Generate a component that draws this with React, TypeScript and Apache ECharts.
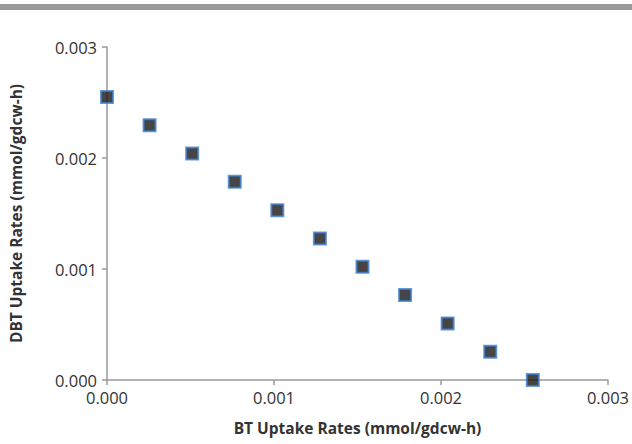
import React, { useEffect, useRef } from "react";
import * as echarts from "echarts";

const btRates = [0, 0.000255, 0.00051, 0.000765, 0.00102, 0.001275, 0.00153, 0.001785, 0.00204, 0.002295, 0.00255];
const dbtRates = [0.00255, 0.002295, 0.00204, 0.001785, 0.00153, 0.001275, 0.00102, 0.000765, 0.00051, 0.000255, 0];
const xName = "BT Uptake Rates (mmol/gdcw-h)";
const yName = "DBT Uptake Rates (mmol/gdcw-h)";

export default function App() {
  const ref = useRef<HTMLDivElement>(null);
  useEffect(() => {
    const chart = echarts.init(ref.current!, null, { renderer: "svg" });
    const axisCommon = {
      min: 0,
      max: 0.003,
      interval: 0.001,
      splitLine: { show: false },
      axisLine: { show: true, lineStyle: { color: "#999", width: 1.5 } },
      axisTick: { show: true, inside: false, length: 5, lineStyle: { color: "#999", width: 1.5 } },
      axisLabel: {
        color: "#333",
        fontFamily: "Open Sans",
        fontSize: 16.5,
        formatter: (v: number) => v.toFixed(3),
      },
      nameLocation: "middle" as const,
      nameTextStyle: { color: "#333", fontFamily: "Open Sans", fontSize: 15.5, fontWeight: "bold" as const },
    };
    chart.setOption({
      animation: false,
      backgroundColor: "#fff",
      graphic: [
        { type: "rect", left: 0, top: 4, shape: { width: 632, height: 6 }, style: { fill: "#9a9a9a" } },
      ],
      grid: { left: 105, right: 22, top: 47, bottom: 64 },
      xAxis: { ...axisCommon, type: "value", name: xName, nameGap: 40, axisLabel: { ...axisCommon.axisLabel, margin: 9 } },
      yAxis: { ...axisCommon, type: "value", name: yName, nameGap: 83, axisLabel: { ...axisCommon.axisLabel, margin: 10 } },
      series: [
        {
          type: "scatter",
          symbol: "rect",
          symbolSize: 12,
          data: btRates.map((x, i) => [x, dbtRates[i]]),
          itemStyle: { color: "#161616", borderColor: "#3f80d0", borderWidth: 2 },
        },
      ],
    });
    return () => chart.dispose();
  }, []);
  return <div ref={ref} style={{ width: 632, height: 444, position: "absolute", left: 0, top: 0 }} />;
}
